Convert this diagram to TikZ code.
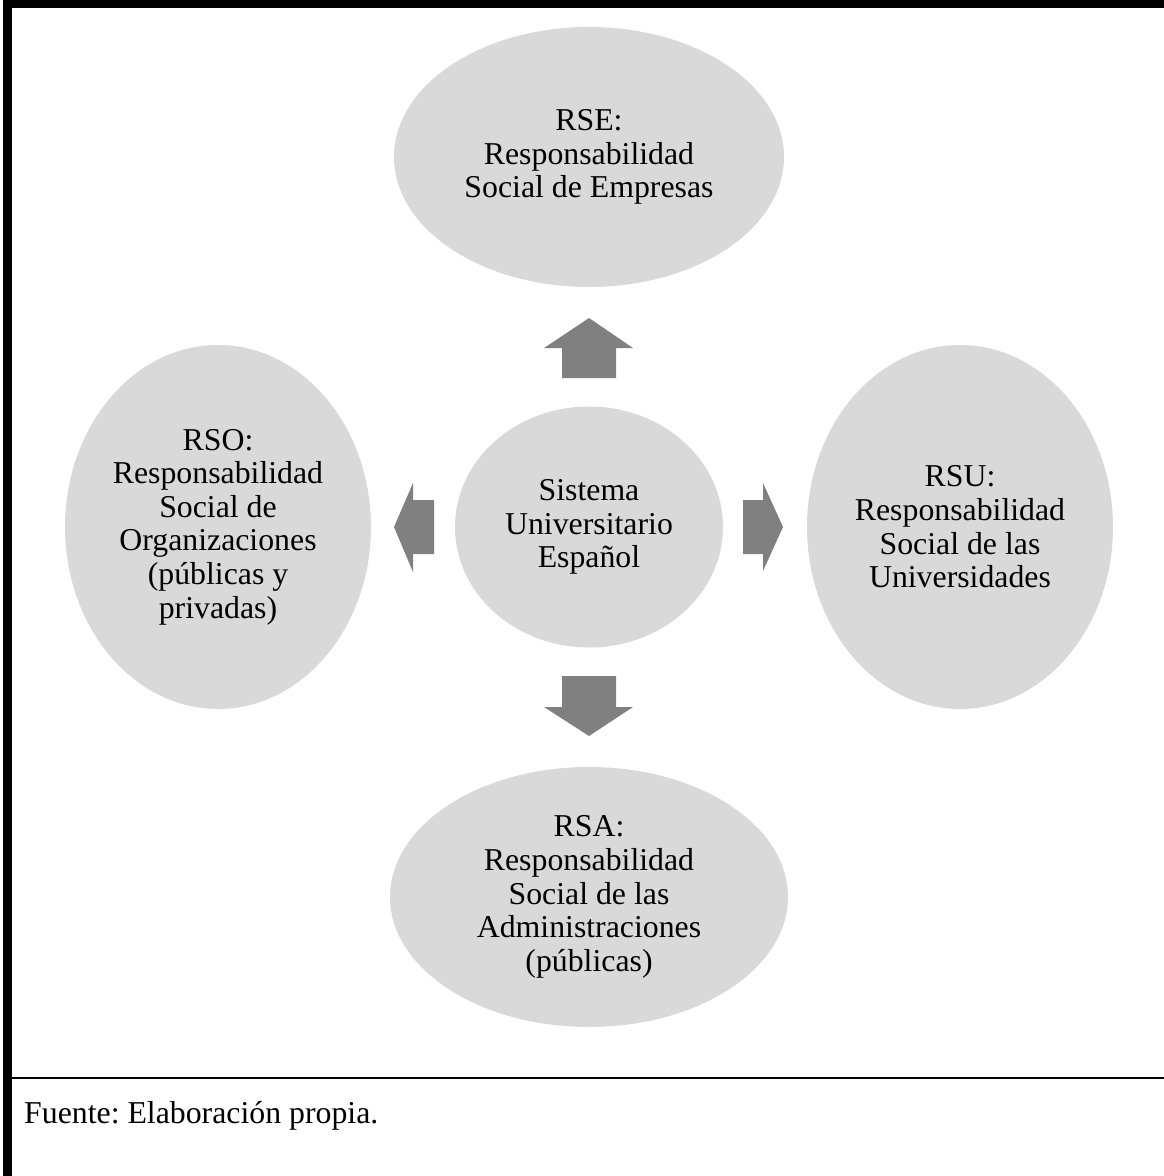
\documentclass[tikz,border=0pt]{standalone}
\usepackage{fontspec}
\setmainfont{Liberation Serif}
\frenchspacing
\usetikzlibrary{shapes.geometric}
\definecolor{bubblegray}{HTML}{D9D9D9}
\definecolor{arrowgray}{HTML}{808080}
\tikzset{
  bubble/.style={ellipse, fill=bubblegray, draw=none, inner sep=0pt,
    align=center, font=\fontsize{31.8}{33.6}\selectfont},
  blockarrow/.style={fill=arrowgray, draw=none},
  framebar/.style={fill=black, draw=none}
}
\begin{document}
\begin{tikzpicture}[x=1pt,y=-1pt]
\useasboundingbox (0,0) rectangle (1164,1176);
% frame: thick top and left bars, thin rule above the source line
\fill[framebar] (3,0) rectangle (1164,8);
\fill[framebar] (3,0) rectangle (12,1176);
\draw[line width=2.3pt] (12,1078) -- (1164,1078);

% central system and the four responsibility areas
\node[bubble, minimum width=268pt, minimum height=241pt] (core) at (589,527)
  {Sistema\\Universitario\\Español};
\node[bubble, minimum width=390pt, minimum height=260pt] (rse) at (589,157)
  {RSE:\\Responsabilidad\\Social de Empresas};
\node[bubble, minimum width=306pt, minimum height=364pt] (rso) at (218,527)
  {RSO:\\Responsabilidad\\Social de\\Organizaciones\\(públicas y\\privadas)};
\node[bubble, minimum width=306pt, minimum height=364pt] (rsu) at (960,527)
  {RSU:\\Responsabilidad\\Social de las\\Universidades};
\node[bubble, minimum width=398pt, minimum height=260pt] (rsa) at (589,897)
  {RSA:\\Responsabilidad\\Social de las\\Administraciones\\(públicas)};

% block arrows pointing outwards from the centre
\fill[blockarrow] (562,378) -- (562,348) -- (544,348) -- (589,318)
  -- (633,348) -- (616,348) -- (616,378) -- cycle;
\fill[blockarrow] (562,676) -- (616,676) -- (616,707) -- (633,707)
  -- (589,736) -- (544,707) -- (562,707) -- cycle;
\fill[blockarrow] (434,500) -- (434,554) -- (413,554) -- (413,572)
  -- (394,527) -- (413,483) -- (413,500) -- cycle;
\fill[blockarrow] (743,500) -- (763,500) -- (763,483) -- (783,527)
  -- (763,571) -- (763,554) -- (743,554) -- cycle;

% source line
\node[anchor=base west, inner sep=0pt, font=\fontsize{31.8}{33.6}\selectfont]
  (source) at (24,1123) {Fuente: Elaboración propia.};
\end{tikzpicture}
\end{document}
